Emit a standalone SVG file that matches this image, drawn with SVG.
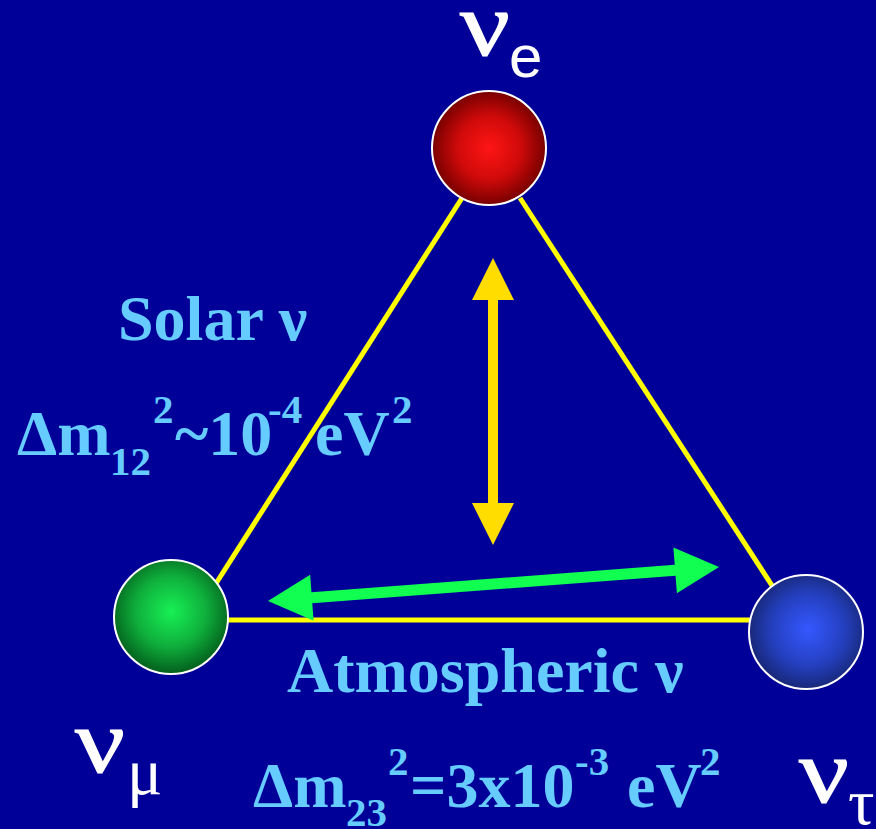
<svg xmlns="http://www.w3.org/2000/svg" width="876" height="829" viewBox="0 0 876 829">
  <defs>
    <radialGradient id="gRed" cx="50%" cy="50%" r="50%">
      <stop offset="0" stop-color="#FF1515"/>
      <stop offset="0.55" stop-color="#D00A0A"/>
      <stop offset="1" stop-color="#780000"/>
    </radialGradient>
    <radialGradient id="gGreen" cx="50%" cy="45%" r="55%">
      <stop offset="0" stop-color="#18F055"/>
      <stop offset="0.55" stop-color="#0FB03C"/>
      <stop offset="1" stop-color="#035E1C"/>
    </radialGradient>
    <radialGradient id="gBlue" cx="52%" cy="48%" r="52%">
      <stop offset="0" stop-color="#3558FF"/>
      <stop offset="0.6" stop-color="#2440C0"/>
      <stop offset="1" stop-color="#18287A"/>
    </radialGradient>
    <style>
      .edge { stroke: #FFFF00; stroke-width: 5; fill: none; }
      .ball { stroke: #FFFFFF; stroke-width: 2; }
      .lbl { font-family: "Liberation Serif", "Times New Roman", serif; font-weight: bold; fill: #66CCFF; }
      .big { font-size: 64px; }
      .small { font-size: 41px; }
      .nu { font-family: "Liberation Serif", "Times New Roman", serif; fill: #FFFFFF; }
      .nubig { font-size: 92px; stroke: #FFFFFF; stroke-width: 1.2; }
      .nusub { font-size: 66px; }
      .sub { font-family: "Liberation Sans", Arial, sans-serif; fill: #FFFFFF; }
    </style>
  </defs>
  <rect x="0" y="0" width="876" height="829" fill="#000099"/>

  <g id="connectors">
    <line class="edge" x1="462" y1="198" x2="215" y2="585"/>
    <line class="edge" x1="520" y1="198" x2="773" y2="587"/>
    <line class="edge" x1="225" y1="620" x2="755" y2="620"/>
    <polygon id="solar-arrow" fill="#FFDD00" points="493,258 514,300 498,300 498,503 514,503 493,545 472,503 488,503 488,300 472,300"/>
    <g id="atm-arrow" transform="translate(268,601) rotate(-4.31)">
      <polygon fill="#10FF50" points="0,0 44,-23 44,-5.5 408.3,-5.5 408.3,-23 452.3,0 408.3,23 408.3,5.5 44,5.5 44,23"/>
    </g>
  </g>

  <g id="nu-e">
    <circle class="ball" cx="489" cy="148" r="57" fill="url(#gRed)"/>
    <text class="nu nubig" transform="translate(460,55) scale(1.2,1)">ν</text>
    <text class="sub" x="509" y="77" font-size="60">e</text>
  </g>

  <g id="nu-mu">
    <circle class="ball" cx="171" cy="617" r="57" fill="url(#gGreen)"/>
    <text class="nu nubig" transform="translate(75,772) scale(1.2,1)">ν</text>
    <text class="nu nusub" x="127" y="794">μ</text>
  </g>

  <g id="nu-tau">
    <circle class="ball" cx="806" cy="632" r="57" fill="url(#gBlue)"/>
    <text class="nu nubig" transform="translate(799,802) scale(1.2,1)">ν</text>
    <text class="nu nusub" x="848" y="824">τ</text>
  </g>

  <g id="solar-label">
    <text class="lbl big" x="118" y="340">Solar ν</text>
    <text class="lbl">
      <tspan class="big" x="17" y="455">Δm</tspan>
      <tspan class="small" x="110" y="475">12</tspan>
      <tspan class="small" x="153" y="423">2</tspan>
      <tspan class="big" x="175" y="455">~10</tspan>
      <tspan class="small" x="268" y="423">-4</tspan>
      <tspan class="big" x="315" y="455">eV</tspan>
      <tspan class="small" x="392" y="423">2</tspan>
    </text>
  </g>

  <g id="atmospheric-label">
    <text class="lbl big" x="287" y="692">Atmospheric ν</text>
    <text class="lbl">
      <tspan class="big" x="253" y="807">Δm</tspan>
      <tspan class="small" x="346" y="826">23</tspan>
      <tspan class="small" x="388" y="775">2</tspan>
      <tspan class="big" x="410" y="807">=3x10</tspan>
      <tspan class="small" x="575" y="775">-3</tspan>
      <tspan class="big" x="627" y="807">eV</tspan>
      <tspan class="small" x="700" y="775">2</tspan>
    </text>
  </g>
</svg>
